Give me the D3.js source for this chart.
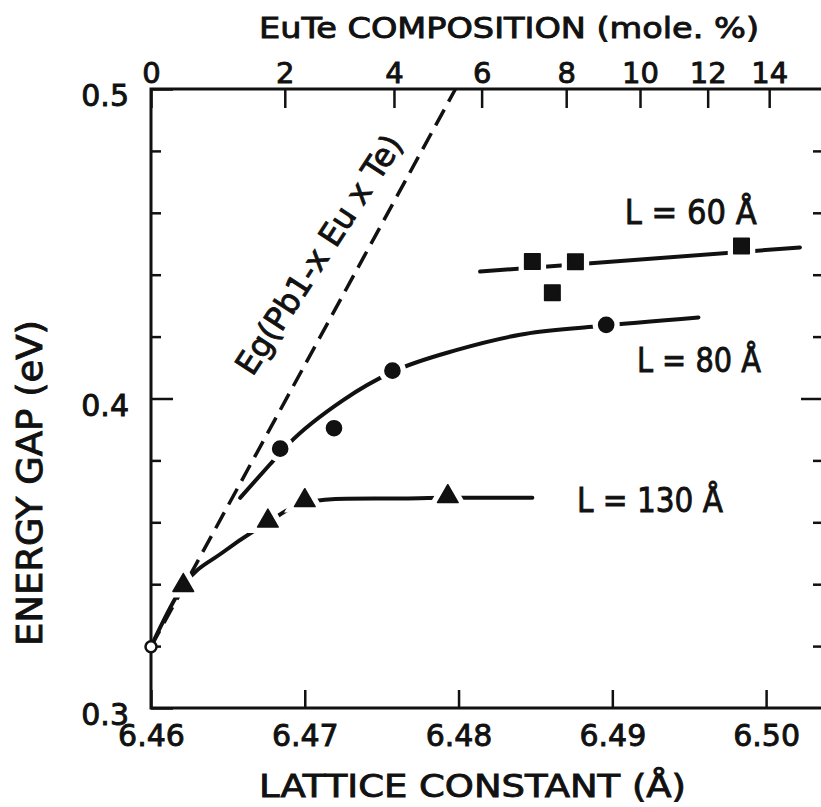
<!DOCTYPE html>
<html>
<head>
<meta charset="utf-8">
<script src="https://cdn.jsdelivr.net/npm/d3@7"></script>
<style>
  html, body { margin: 0; padding: 0; background: #fff; }
  svg { display: block; }
  text { font-family: "DejaVu Sans", "Liberation Sans", sans-serif; fill: #111; stroke: #111; stroke-width: 0.9; }
</style>
</head>
<body>
<svg id="chart" width="821" height="807"></svg>
<script>
// ---- axis ticks ----
const latticeTicks = [6.46, 6.47, 6.48, 6.49, 6.50];
const gapMajorTicks = [0.3, 0.4, 0.5];
const gapMinorTicks = [0.32, 0.34, 0.36, 0.38, 0.42, 0.44, 0.46, 0.48];
// EuTe composition (mole %) on the top axis and the lattice constant each sits at
const compositionTicks = [0, 2, 4, 6, 8, 10, 12, 14];
const compositionLattice = [6.4600, 6.4687, 6.4758, 6.4815, 6.4870, 6.4918, 6.4962, 6.5002];

// ---- measured points ----
const bulkLattice = [6.4600];
const bulkGap = [0.3198];
const l130Lattice = [6.4621, 6.4676, 6.4700, 6.4793];
const l130Gap = [0.3396, 0.3604, 0.3670, 0.3683];
const l80Lattice = [6.4684, 6.4719, 6.4757, 6.4896];
const l80Gap = [0.3838, 0.3904, 0.4090, 0.4238];
const l60Lattice = [6.4848, 6.4861, 6.4876, 6.4984];
const l60Gap = [0.4443, 0.4342, 0.4442, 0.4493];

// ---- guide curves ----
const fit130Lattice = [6.4600, 6.4621, 6.4647, 6.4676, 6.4700, 6.4727, 6.4762, 6.4793, 6.4848];
const fit130Gap = [0.3198, 0.3396, 0.3504, 0.3600, 0.3664, 0.3676, 0.3677, 0.3679, 0.3679];
const fit80Lattice = [6.4658, 6.4677, 6.4690, 6.4725, 6.4757, 6.4799, 6.4840, 6.4887, 6.4956];
const fit80Gap = [0.3679, 0.3785, 0.3856, 0.3995, 0.4086, 0.4157, 0.4206, 0.4232, 0.4262];
const fit60Lattice = [6.4814, 6.5022];
const fit60Gap = [0.4410, 0.4488];
// band gap of bulk Pb1-xEuxTe
const bulkEgLattice = [6.4600, 6.4798];
const bulkEgGap = [0.3198, 0.5000];

const svg = d3.select("#chart");
const x = d3.scaleLinear().domain([6.46, 6.5037]).range([151, 823]);
const y = d3.scaleLinear().domain([0.3, 0.5]).range([708, 89]);
const comp = d3.scaleLinear().domain(compositionTicks).range(compositionLattice.map(x));

const INK = "#111";

// ---- frame ----
svg.append("rect")
  .attr("x", x(6.46)).attr("y", y(0.5))
  .attr("width", x(6.5037) - x(6.46)).attr("height", y(0.3) - y(0.5))
  .attr("fill", "none").attr("stroke", INK).attr("stroke-width", 3);

function styleAxis(g, fontSize) {
  g.select(".domain").remove();
  g.selectAll(".tick line").attr("stroke", INK).attr("stroke-width", 2.5);
  g.selectAll(".tick text").attr("font-size", fontSize).attr("fill", INK);
}

// bottom: lattice constant
svg.append("g").attr("transform", `translate(0,${y(0.3)})`)
  .call(d3.axisBottom(x).tickValues(latticeTicks).tickFormat(d3.format(".2f"))
    .tickSizeInner(-18).tickSizeOuter(0).tickPadding(17))
  .call(g => styleAxis(g, 30));

// top: composition
svg.append("g").attr("transform", `translate(0,${y(0.5)})`)
  .call(d3.axisTop(comp).tickValues(compositionTicks).tickFormat(d3.format("d"))
    .tickSizeInner(-19).tickSizeOuter(0).tickPadding(6))
  .call(g => styleAxis(g, 29));

// left: energy gap
svg.append("g").attr("transform", `translate(${x(6.46)},0)`)
  .call(d3.axisLeft(y).tickValues(gapMajorTicks).tickFormat(d3.format(".1f"))
    .tickSizeInner(-22).tickSizeOuter(0).tickPadding(22))
  .call(g => styleAxis(g, 30))
  .call(g => g.selectAll(".tick text").attr("dy", "0.55em"));
svg.append("g").attr("transform", `translate(${x(6.46)},0)`)
  .call(d3.axisLeft(y).tickValues(gapMinorTicks).tickFormat("")
    .tickSizeInner(-10).tickSizeOuter(0))
  .call(g => styleAxis(g, 10));

// right edge ticks
svg.append("g").attr("transform", `translate(${x(6.5037)},0)`)
  .call(d3.axisRight(y).tickValues([0.4]).tickFormat("")
    .tickSizeInner(-22).tickSizeOuter(0))
  .call(g => styleAxis(g, 10));
svg.append("g").attr("transform", `translate(${x(6.5037)},0)`)
  .call(d3.axisRight(y).tickValues(gapMinorTicks).tickFormat("")
    .tickSizeInner(-10).tickSizeOuter(0))
  .call(g => styleAxis(g, 10));

// ---- axis titles ----
svg.append("text").text("EuTe COMPOSITION (mole. %)")
  .attr("x", 259).attr("y", 38).attr("font-size", 28)
  .attr("textLength", 500).attr("lengthAdjust", "spacingAndGlyphs");
svg.append("text").text("LATTICE CONSTANT (Å)")
  .attr("x", 259).attr("y", 797).attr("font-size", 32)
  .attr("textLength", 427).attr("lengthAdjust", "spacingAndGlyphs");
svg.append("text").text("ENERGY GAP (eV)")
  .attr("transform", "translate(42,483) rotate(-90)")
  .attr("text-anchor", "middle").attr("font-size", 36)
  .attr("textLength", 326).attr("lengthAdjust", "spacingAndGlyphs");

// ---- lines ----
const zip = (a, b) => a.map((v, i) => [v, b[i]]);
const line = d3.line().x(d => x(d[0])).y(d => y(d[1])).curve(d3.curveMonotoneX);
const straight = d3.line().x(d => x(d[0])).y(d => y(d[1]));

svg.append("path").attr("d", straight(zip(bulkEgLattice, bulkEgGap)))
  .attr("fill", "none").attr("stroke", INK).attr("stroke-width", 3.5)
  .attr("stroke-dasharray", "18,9");

[[fit130Lattice, fit130Gap], [fit80Lattice, fit80Gap], [fit60Lattice, fit60Gap]].forEach(([a, g]) => {
  svg.append("path").attr("d", line(zip(a, g)))
    .attr("fill", "none").attr("stroke", INK).attr("stroke-width", 4)
    .attr("stroke-linecap", "round");
});

// ---- markers (white halo opens a gap in the guide line) ----
function markers(lat, gap, type, size) {
  const sym = d3.symbol().type(type).size(size);
  const pts = zip(lat, gap);
  svg.append("g").selectAll("path").data(pts).join("path")
    .attr("transform", d => `translate(${x(d[0])},${y(d[1])})`)
    .attr("d", sym).attr("fill", "#fff").attr("stroke", "#fff").attr("stroke-width", 12);
  svg.append("g").selectAll("path").data(pts).join("path")
    .attr("transform", d => `translate(${x(d[0])},${y(d[1])})`)
    .attr("d", sym).attr("fill", INK).attr("stroke", INK).attr("stroke-width", 1.5)
    .attr("stroke-linejoin", "round");
}
markers(l130Lattice, l130Gap, d3.symbolTriangle, 185);
markers(l80Lattice, l80Gap, d3.symbolCircle, 180);
markers(l60Lattice, l60Gap, d3.symbolSquare, 240);

svg.append("g").selectAll("circle").data(zip(bulkLattice, bulkGap)).join("circle")
  .attr("cx", d => x(d[0])).attr("cy", d => y(d[1])).attr("r", 5.5)
  .attr("fill", "#fff").attr("stroke", INK).attr("stroke-width", 2.5);

// ---- annotations ----
svg.append("text").text("L = 60 Å")
  .attr("x", x(6.4908)).attr("y", y(0.4564)).attr("font-size", 34)
  .attr("textLength", 132).attr("lengthAdjust", "spacingAndGlyphs");
svg.append("text").text("L = 80 Å")
  .attr("x", x(6.4916)).attr("y", y(0.4086)).attr("font-size", 34)
  .attr("textLength", 124).attr("lengthAdjust", "spacingAndGlyphs");
svg.append("text").text("L = 130 Å")
  .attr("x", x(6.4877)).attr("y", y(0.3633)).attr("font-size", 34)
  .attr("textLength", 146).attr("lengthAdjust", "spacingAndGlyphs");
svg.append("text").text("Eg(Pb1-x Eu x Te)")
  .attr("transform", `translate(${x(6.4666)},${y(0.4069)}) rotate(-57)`)
  .attr("font-size", 32)
  .attr("textLength", 278).attr("lengthAdjust", "spacingAndGlyphs");
</script>
</body>
</html>
